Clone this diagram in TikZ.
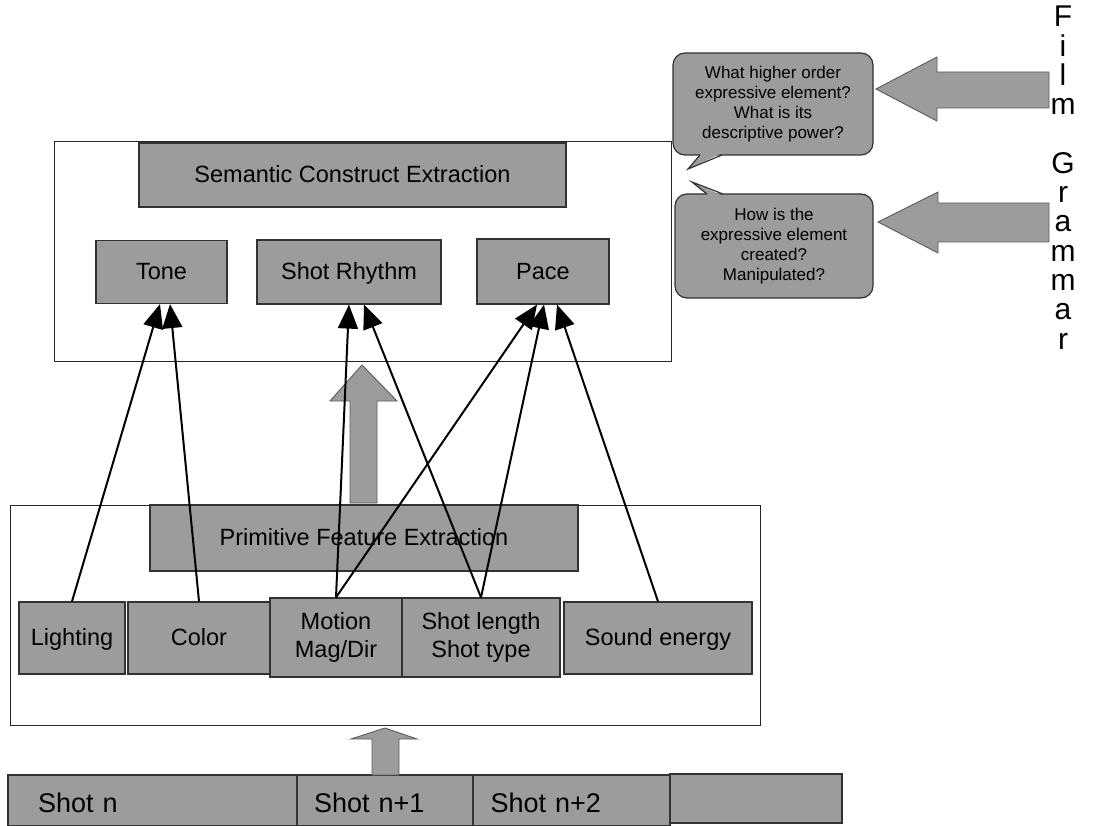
\documentclass[tikz,border=0pt]{standalone}
\usepackage{fontspec}
\setmainfont{Liberation Sans}
\usetikzlibrary{arrows.meta}
\definecolor{boxgray}{RGB}{156,156,156}
\definecolor{edgegray}{RGB}{50,50,50}
\tikzset{
  panel/.style={draw=black!85, line width=0.9pt},
  graybox/.style={draw=edgegray, line width=1.2pt, fill=boxgray, inner sep=0pt,
    align=center, font=\fontsize{23.5}{28}\selectfont},
  oneline/.style={graybox, text height=19pt, text depth=4pt},
  shotbox/.style={graybox, align=left, inner ysep=0pt, text height=27pt, text depth=4pt,
    font=\fontsize{27}{30}\selectfont},
  bubble/.style={draw=edgegray, line width=1.2pt, fill=boxgray, rounded corners=12pt,
    inner sep=0pt, align=center, font=\fontsize{17}{20}\selectfont},
  blockarrow/.style={draw=edgegray!80, line width=0.9pt, fill=boxgray},
  link/.style={line width=2pt, -{Triangle[length=24pt,width=20pt]}}
}
\begin{document}
\begin{tikzpicture}[x=1pt,y=-1pt]
\useasboundingbox (0,0) rectangle (1094,826);
% upper panel
\node[panel, minimum width=617pt, minimum height=220pt] (upper) at (362.5,251) {};
\node[oneline, minimum width=427pt, minimum height=64pt] (semantic) at (352.5,175) {Semantic Construct Extraction};
\node[oneline, minimum width=131pt, minimum height=63pt] (tone) at (161.5,272) {Tone};
\node[oneline, minimum width=184pt, minimum height=64pt] (rhythm) at (349,272) {Shot Rhythm};
\node[oneline, minimum width=132pt, minimum height=65pt] (pace) at (543,271.5) {Pace};
% questions
\node[bubble, minimum width=200pt, minimum height=102pt] (askwhat) at (773,104)
  {What higher order\\expressive element?\\What is its\\descriptive power?};
\fill[boxgray] (701,153.5) -- (688,169) -- (721,153.5) -- cycle;
\draw[edgegray, line width=1.2pt] (700,155) -- (688,169) -- (722,155);
\node[bubble, minimum width=198pt, minimum height=104pt] (askhow) at (774,246)
  {How is the\\expressive element\\created?\\Manipulated?};
\fill[boxgray] (708,195.5) -- (692,182) -- (722,195.5) -- cycle;
\draw[edgegray, line width=1.2pt] (707,194) -- (692,182) -- (723,194);
\draw[blockarrow] (876,89) -- (937,57) -- (937,72) -- (1049,72) -- (1049,108) -- (937,108) -- (937,121) -- cycle;
\draw[blockarrow] (878,222) -- (938,192) -- (938,203) -- (1049,203) -- (1049,242) -- (938,242) -- (938,253) -- cycle;
\node[anchor=north, inner sep=0pt, align=center, font=\fontsize{30}{29.3}\selectfont] (grammar) at (1063,6)
  {F\\i\\l\\m\\[29.3pt]G\\r\\a\\m\\m\\a\\r};
% lower panel
\node[panel, minimum width=750pt, minimum height=220pt] (lower) at (385,615) {};
\node[oneline, minimum width=428pt, minimum height=66pt] (primitive) at (364,538) {Primitive Feature Extraction};
\node[oneline, minimum width=106pt, minimum height=72pt] (lighting) at (72,638) {Lighting};
\node[oneline, minimum width=142pt, minimum height=72pt] (color) at (199,638) {Color};
\node[graybox, minimum width=132pt, minimum height=79pt] (motion) at (336,637.5) {Motion\\Mag/Dir};
\node[graybox, minimum width=158pt, minimum height=79pt] (shotlen) at (481,637.5) {Shot length\\Shot type};
\node[oneline, minimum width=188pt, minimum height=72pt] (sound) at (658,638) {Sound energy};
\draw[blockarrow] (362,365) -- (397,401) -- (377,401) -- (377,503) -- (350,503) -- (350,401) -- (330,401) -- cycle;
% shots
\node[shotbox, minimum height=51pt, text width=229pt, inner xsep=30pt] (shotn) at (152.5,800.5) {Shot n};
\node[shotbox, minimum height=51pt, text width=142pt, inner xsep=17pt] (shotnext) at (385,800.5) {Shot n+1};
\node[shotbox, minimum height=51pt, text width=162pt, inner xsep=17.5pt] (shotafter) at (571.5,800.5) {Shot n+2};
\node[shotbox, minimum width=172pt, minimum height=49pt] (shotmore) at (756,798.5) {};
\draw[blockarrow] (385,728) -- (417,739) -- (399,739) -- (399,775) -- (372,775) -- (372,739) -- (351,739) -- cycle;
% features to constructs
\draw[link] (lighting.north) -- ([xshift=-1.5pt]tone.south);
\draw[link] (color.north) -- ([xshift=8.5pt]tone.south);
\draw[link] (motion.north) -- (rhythm.south);
\draw[link] (shotlen.north) -- ([xshift=15pt]rhythm.south);
\draw[link] (motion.north) -- ([xshift=-6pt]pace.south);
\draw[link] (shotlen.north) -- ([xshift=1pt]pace.south);
\draw[link] (sound.north) -- ([xshift=14pt]pace.south);
\end{tikzpicture}
\end{document}
